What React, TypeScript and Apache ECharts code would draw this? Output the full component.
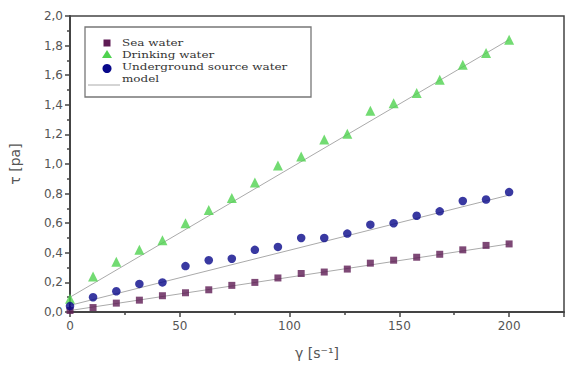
import React, { useEffect, useRef } from "react";
import * as echarts from "echarts";

const shearRate = [0, 10.5, 21.1, 31.6, 42.1, 52.6, 63.2, 73.7, 84.2, 94.7, 105.3, 115.8, 126.3, 136.8, 147.4, 157.9, 168.4, 178.9, 189.5, 200];
const seaWater = [0.01, 0.03, 0.06, 0.08, 0.11, 0.13, 0.15, 0.18, 0.2, 0.23, 0.26, 0.27, 0.29, 0.33, 0.35, 0.37, 0.39, 0.42, 0.45, 0.46];
const drinkingWater = [0.09, 0.24, 0.34, 0.42, 0.485, 0.6, 0.69, 0.77, 0.875, 0.99, 1.05, 1.165, 1.205, 1.36, 1.41, 1.48, 1.57, 1.67, 1.75, 1.84];
const undergroundWater = [0.04, 0.1, 0.14, 0.19, 0.2, 0.31, 0.35, 0.36, 0.42, 0.44, 0.5, 0.5, 0.53, 0.59, 0.6, 0.65, 0.68, 0.75, 0.76, 0.81];
const modelX = [0, 200];
const modelSea = [0.01, 0.46];
const modelDrinking = [0.1, 1.84];
const modelUnderground = [0.045, 0.79];

const seriesNames = ["Sea water", "Drinking water", "Underground source water", "model"];
const seriesColors = ["#5e1b54", "#4fd24f", "#08088a", "#aaaaaa"];

const zip = (xs: number[], ys: number[]) => xs.map((x, i) => [x, ys[i]]);

export default function App() {
  const ref = useRef<HTMLDivElement>(null);
  useEffect(() => {
    if (!ref.current) return;
    const chart = echarts.init(ref.current, undefined, { renderer: "svg" });
    const modelLine = (ys: number[]) => ({
      type: "line",
      name: "model",
      data: zip(modelX, ys),
      symbol: "none",
      color: seriesColors[3],
      lineStyle: { color: seriesColors[3], width: 1 },
      z: 1,
    });
    const textY = [43, 55, 67, 79];
    const legendText = seriesNames.map((n, i) => ({
      type: "text",
      x: 122,
      y: textY[i],
      scaleX: 1.2,
      style: {
        text: n,
        font: "10px 'DejaVu Serif', serif",
        fontFamily: "DejaVu Serif",
        fontSize: 10,
        lineHeight: 10,
        fill: "#333333",
        verticalAlign: "middle",
        align: "left",
      },
      z: 10,
    }));
    chart.setOption({
      animation: false,
      backgroundColor: "#ffffff",
      grid: {
        left: 70,
        top: 16,
        bottom: 52,
        right: -2,
        show: true,
        borderColor: "#444444",
        borderWidth: 1.5,
      },
      graphic: [
        {
          type: "rect",
          shape: { x: 85, y: 27, width: 226, height: 70 },
          style: { fill: "#ffffff", stroke: "#777777", lineWidth: 1.3 },
          z: 5,
        },
        {
          type: "rect",
          shape: { x: 103.5, y: 39.5, width: 7, height: 7 },
          style: { fill: seriesColors[0] },
          z: 10,
        },
        {
          type: "polygon",
          shape: { points: [[107, 50], [112, 58], [102, 58]] },
          style: { fill: seriesColors[1] },
          z: 10,
        },
        {
          type: "circle",
          shape: { cx: 107, cy: 68.5, r: 4.5 },
          style: { fill: seriesColors[2] },
          z: 10,
        },
        {
          type: "line",
          shape: { x1: 88, y1: 85, x2: 120, y2: 85 },
          style: { stroke: seriesColors[3], lineWidth: 1 },
          z: 10,
        },
        ...legendText,
      ],
      xAxis: {
        type: "value",
        min: 0,
        max: 225,
        interval: 50,
        name: "γ [s⁻¹]",
        nameLocation: "middle",
        nameGap: 34,
        nameTextStyle: { fontFamily: "DejaVu Sans", fontSize: 14, color: "#555555" },
        axisLine: { show: true, lineStyle: { color: "#444444", width: 2 } },
        axisTick: { show: true, length: 5, lineStyle: { color: "#444444", width: 1.5 } },
        minorTick: { show: true, splitNumber: 2, length: 3, lineStyle: { color: "#444444", width: 1.5 } },
        axisLabel: {
          fontFamily: "DejaVu Sans",
          fontSize: 12,
          color: "#555555",
          margin: 8,
          formatter: (v: number) => (v > 200 ? "" : String(v)),
        },
        splitLine: { show: false },
      },
      yAxis: {
        type: "value",
        min: 0,
        max: 2,
        interval: 0.2,
        name: "τ [pa]",
        nameLocation: "middle",
        nameGap: 48,
        nameTextStyle: { fontFamily: "DejaVu Sans", fontSize: 14, color: "#555555" },
        axisLine: { show: true, lineStyle: { color: "#444444", width: 2 } },
        axisTick: { show: true, length: 5, lineStyle: { color: "#444444", width: 1.5 } },
        minorTick: { show: true, splitNumber: 2, length: 3, lineStyle: { color: "#444444", width: 1.5 } },
        axisLabel: {
          fontFamily: "DejaVu Sans",
          fontSize: 12,
          color: "#555555",
          margin: 7,
          formatter: (v: number) => v.toFixed(1).replace(".", ","),
        },
        splitLine: { show: false },
      },
      series: [
        {
          type: "scatter",
          name: seriesNames[0],
          data: zip(shearRate, seaWater),
          symbol: "rect",
          symbolSize: 7,
          color: seriesColors[0],
          z: 3,
        },
        {
          type: "scatter",
          name: seriesNames[1],
          data: zip(shearRate, drinkingWater),
          symbol: "triangle",
          symbolSize: 10,
          color: seriesColors[1],
          z: 3,
        },
        {
          type: "scatter",
          name: seriesNames[2],
          data: zip(shearRate, undergroundWater),
          symbol: "circle",
          symbolSize: 8.5,
          color: seriesColors[2],
          z: 3,
        },
        modelLine(modelSea),
        modelLine(modelDrinking),
        modelLine(modelUnderground),
      ],
    });
    return () => chart.dispose();
  }, []);
  return (
    <div
      ref={ref}
      style={{ position: "absolute", left: 0, top: 0, width: 567, height: 365, background: "#fff" }}
    />
  );
}
